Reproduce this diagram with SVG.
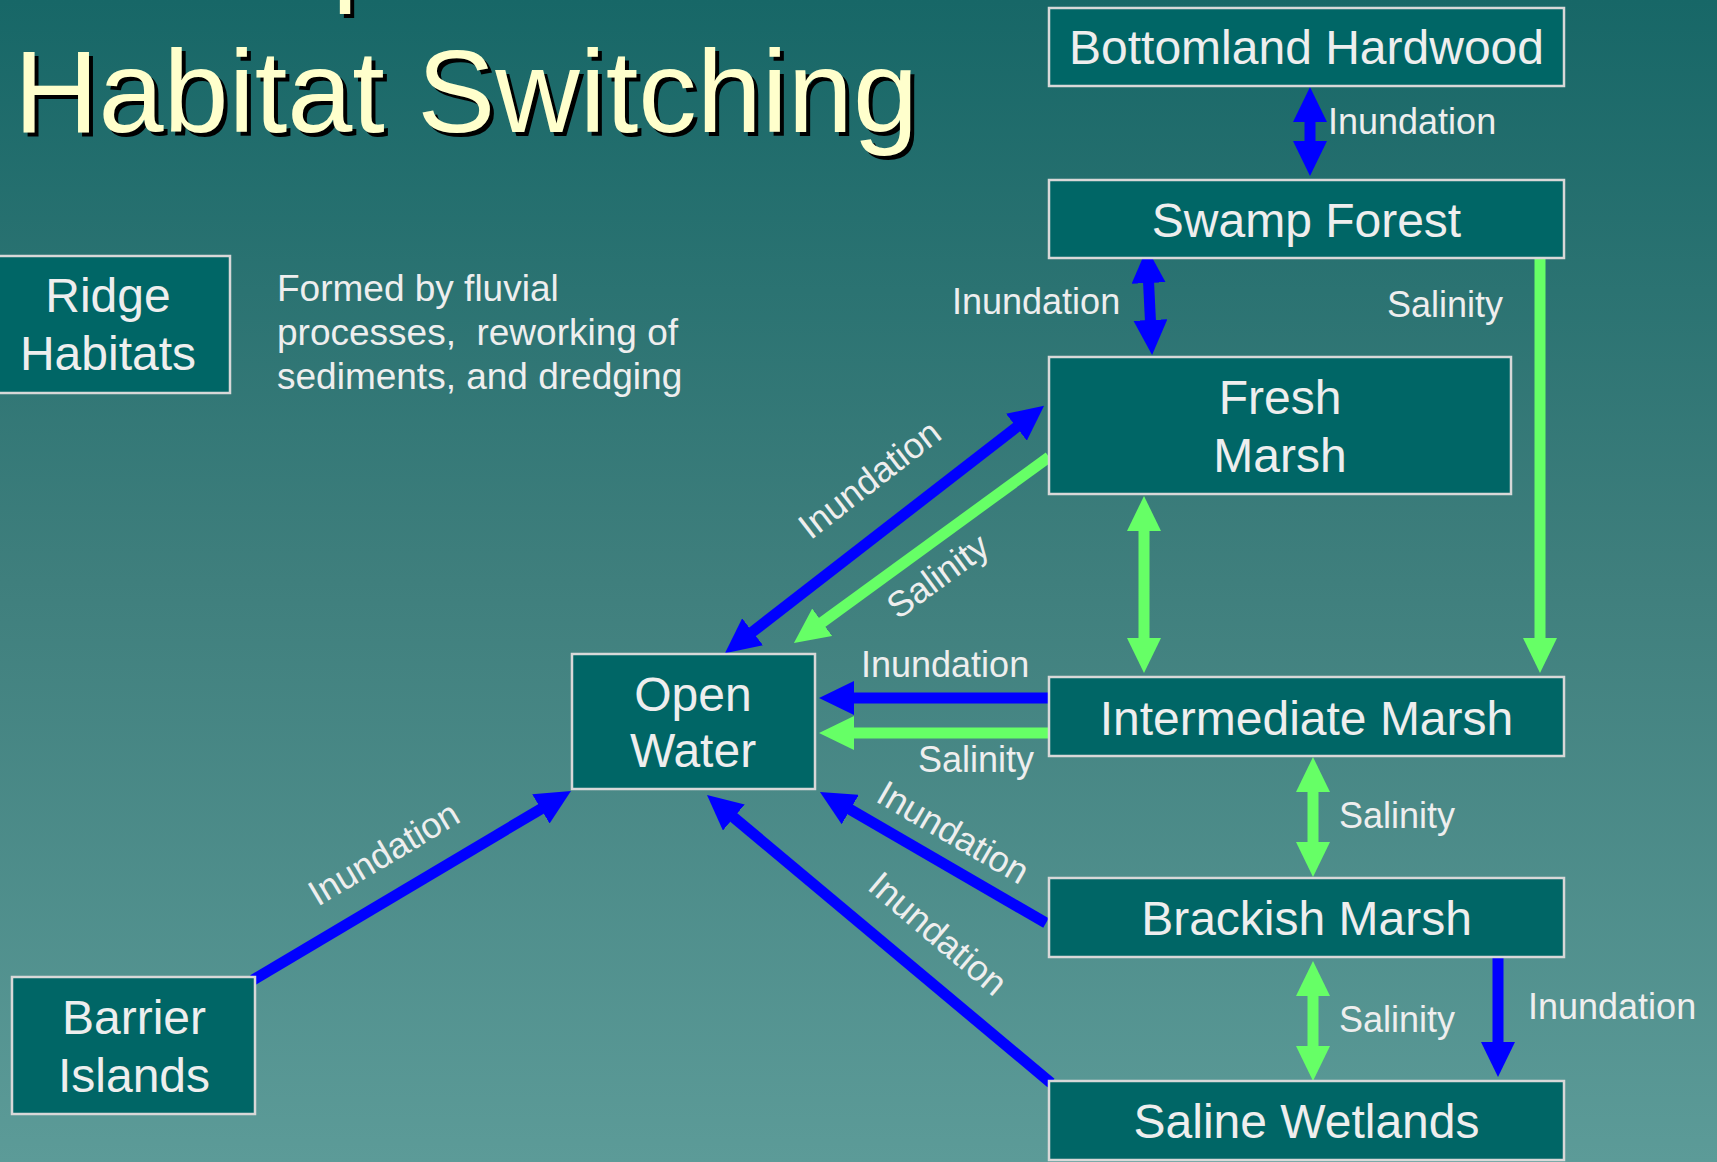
<svg xmlns="http://www.w3.org/2000/svg" width="1717" height="1162" viewBox="0 0 1717 1162">
<defs>
<linearGradient id="bg" x1="0" y1="0" x2="0" y2="1">
<stop offset="0" stop-color="#176767"/>
<stop offset="0.5" stop-color="#3f7f7d"/>
<stop offset="1" stop-color="#5c9b98"/>
</linearGradient>
<marker id="hb" viewBox="0 0 35 34" markerWidth="35" markerHeight="34" refX="2" refY="17" markerUnits="userSpaceOnUse" orient="auto-start-reverse">
<path d="M0,0 L35,17 L0,34 Z" fill="#0000ff"/>
</marker>
<marker id="hg" viewBox="0 0 35 34" markerWidth="35" markerHeight="34" refX="2" refY="17" markerUnits="userSpaceOnUse" orient="auto-start-reverse">
<path d="M0,0 L35,17 L0,34 Z" fill="#66ff66"/>
</marker>
</defs>
<style>
.box{fill:#006666;stroke:#d8d8d8;stroke-width:2.5}
.nt{font-family:"Liberation Sans",Arial,sans-serif;font-size:48px;fill:#eeeeee;text-anchor:middle}
.lb{font-family:"Liberation Sans",Arial,sans-serif;font-size:36px;fill:#eeeeee}
.note{font-family:"Liberation Sans",Arial,sans-serif;font-size:37px;fill:#eeeeee}
.title{font-family:"Liberation Sans",Arial,sans-serif;font-size:117px}
.b{fill:none;stroke:#0000ff;stroke-width:11}
.g{fill:none;stroke:#66ff66;stroke-width:11}
.ba{marker-end:url(#hb)}
.bb{marker-start:url(#hb);marker-end:url(#hb)}
.ga{marker-end:url(#hg)}
.gb{marker-start:url(#hg);marker-end:url(#hg)}
</style>
<rect x="0" y="0" width="1717" height="1162" fill="url(#bg)"/>

<g id="title">
<text class="title" x="336" y="-6" fill="#000000">p</text>
<text class="title" x="332" y="-10" fill="#ffffcc">p</text>
<text class="title" x="18" y="136" fill="#000000">Habitat Switching</text>
<text class="title" x="14" y="132" fill="#ffffcc">Habitat Switching</text>
</g>

<g id="connectors">
<line class="b bb" x1="1310" y1="120" x2="1310" y2="143"/>
<line class="b bb" x1="1148.5" y1="281" x2="1150.5" y2="322"/>
<line class="g ga" x1="1540" y1="257" x2="1540" y2="640"/>
<line class="g gb" x1="1144" y1="529" x2="1144" y2="640"/>
<line class="b bb" x1="751" y1="633" x2="1018" y2="426"/>
<line class="g ga" x1="1049" y1="457" x2="820.6" y2="623.5"/>
<line class="b ba" x1="1049" y1="698" x2="852" y2="698"/>
<line class="g ga" x1="1049" y1="733" x2="852" y2="733"/>
<line class="b ba" x1="1046" y1="923" x2="848.5" y2="808.6"/>
<line class="b ba" x1="1051" y1="1083" x2="732.3" y2="816.2"/>
<line class="b ba" x1="253" y1="980" x2="542.6" y2="807.9"/>
<line class="g gb" x1="1313" y1="790" x2="1313" y2="844"/>
<line class="g gb" x1="1313" y1="994" x2="1313" y2="1048"/>
<line class="b ba" x1="1498" y1="957" x2="1498" y2="1044"/>
</g>

<g id="labels">
<text class="lb" x="1328" y="134">Inundation</text>
<text class="lb" x="952" y="314">Inundation</text>
<text class="lb" x="1387" y="317">Salinity</text>
<text class="lb" text-anchor="middle" transform="translate(877,489) rotate(-37.7)">Inundation</text>
<text class="lb" text-anchor="middle" transform="translate(945,586) rotate(-36.2)">Salinity</text>
<text class="lb" x="861" y="677">Inundation</text>
<text class="lb" x="918" y="772">Salinity</text>
<text class="lb" text-anchor="middle" transform="translate(947,843) rotate(30.1)">Inundation</text>
<text class="lb" text-anchor="middle" transform="translate(930,943) rotate(40.3)">Inundation</text>
<text class="lb" text-anchor="middle" transform="translate(390,864) rotate(-30.7)">Inundation</text>
<text class="lb" x="1339" y="828">Salinity</text>
<text class="lb" x="1339" y="1032">Salinity</text>
<text class="lb" x="1528" y="1019">Inundation</text>
</g>

<g id="ridge-note">
<text class="note" x="277" y="301">Formed by fluvial</text>
<text class="note" x="277" y="345" xml:space="preserve">processes,  reworking of</text>
<text class="note" x="277" y="389">sediments, and dredging</text>
</g>

<g id="bottomland-hardwood">
<rect class="box" x="1049" y="8" width="515" height="78"/>
<text class="nt" x="1306.5" y="64">Bottomland Hardwood</text>
</g>
<g id="swamp-forest">
<rect class="box" x="1049" y="180" width="515" height="78"/>
<text class="nt" x="1306.5" y="237">Swamp Forest</text>
</g>
<g id="fresh-marsh">
<rect class="box" x="1049" y="357" width="462" height="137"/>
<text class="nt" x="1280" y="414">Fresh</text>
<text class="nt" x="1280" y="472">Marsh</text>
</g>
<g id="intermediate-marsh">
<rect class="box" x="1049" y="677" width="515" height="79"/>
<text class="nt" x="1306.5" y="735">Intermediate Marsh</text>
</g>
<g id="brackish-marsh">
<rect class="box" x="1049" y="878" width="515" height="79"/>
<text class="nt" x="1306.5" y="935">Brackish Marsh</text>
</g>
<g id="saline-wetlands">
<rect class="box" x="1049" y="1081" width="515" height="79"/>
<text class="nt" x="1306.5" y="1138">Saline Wetlands</text>
</g>
<g id="open-water">
<rect class="box" x="572" y="654" width="243" height="135"/>
<text class="nt" x="693" y="711">Open</text>
<text class="nt" x="693" y="767">Water</text>
</g>
<g id="ridge-habitats">
<rect class="box" x="-2" y="256" width="232" height="137"/>
<text class="nt" x="108" y="312">Ridge</text>
<text class="nt" x="108" y="370">Habitats</text>
</g>
<g id="barrier-islands">
<rect class="box" x="12" y="977" width="243" height="137"/>
<text class="nt" x="134" y="1034">Barrier</text>
<text class="nt" x="134" y="1092">Islands</text>
</g>
</svg>
